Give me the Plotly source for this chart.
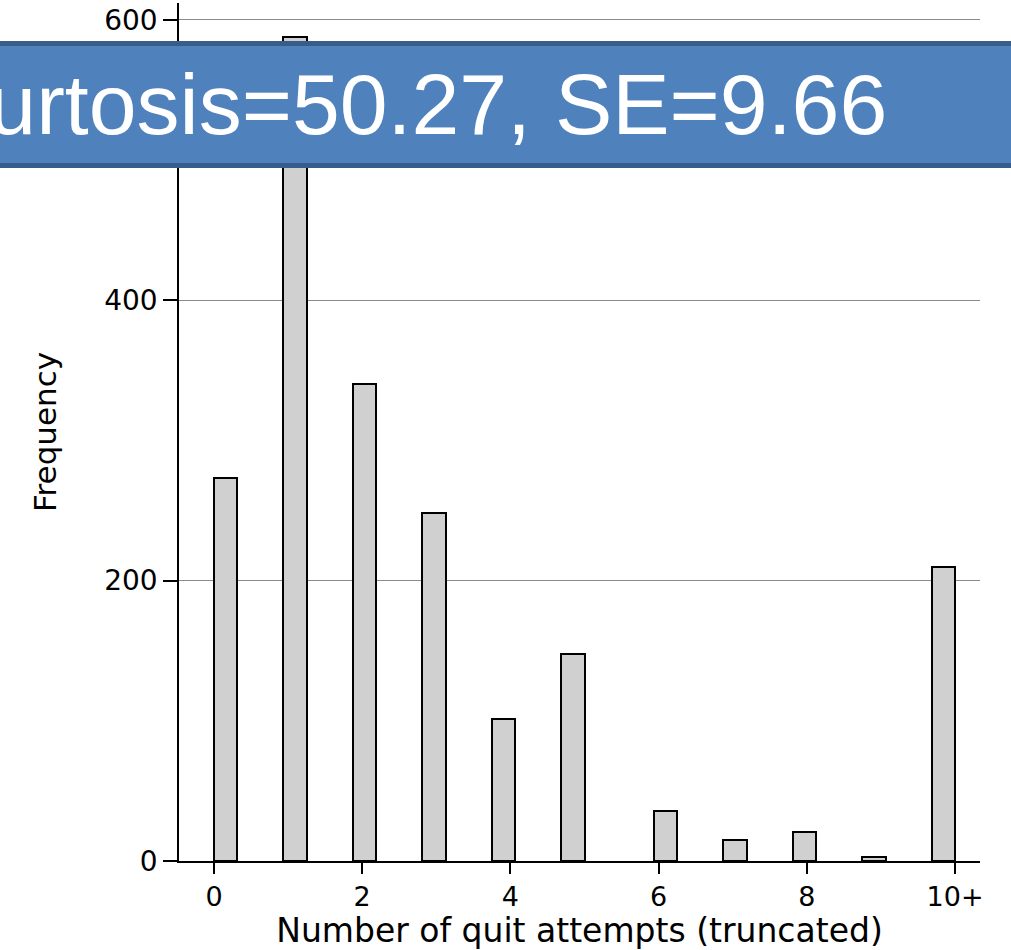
import plotly.graph_objects as go
import math

# Data
attempts = [0, 1, 2, 3, 4, 5, 6, 7, 8, 9, 10]
frequency = [273, 588, 340, 248, 101, 148, 36, 15, 21, 3, 210]
x_tick_vals = [0, 2, 4, 6, 8, 10]
x_tick_text = ["0", "2", "4", "6", "8", "10+"]
y_tick_vals = [0, 200, 400, 600]
banner_text = "Kurtosis=50.27, SE=9.66"

# Stata-style histogram bins: 32 bins over [0, 10], right-inclusive
n_bins = 32
bin_w = 10 / n_bins
centers = []
for v in attempts:
    idx = 0 if v == 0 else math.ceil(v / bin_w) - 1
    centers.append(idx * bin_w + bin_w / 2)

W, H = 1011, 950
ml, mr, mt, mb = 179, 31, 3, 89

fig = go.Figure()
fig.add_trace(go.Bar(
    x=centers, y=frequency, width=bin_w,
    marker=dict(color="#D0D0D0", line=dict(color="#000000", width=2)),
    hoverinfo="skip", showlegend=False,
))

fig.update_layout(
    width=W, height=H,
    margin=dict(l=ml, r=mr, t=mt, b=mb, pad=0),
    paper_bgcolor="white", plot_bgcolor="white",
    font=dict(family="DejaVu Sans, Arial, sans-serif", color="black"),
    xaxis=dict(
        range=[-0.4723, 10.337],
        tickmode="array", tickvals=x_tick_vals, ticktext=x_tick_text,
        ticks="outside", ticklen=11, tickwidth=1.5, tickcolor="black",
        tickfont=dict(size=27, family="DejaVu Sans, Arial, sans-serif"),
        showgrid=False, zeroline=False,
        showline=True, linecolor="black", linewidth=1.5,
        title=dict(text="Number of quit attempts (truncated)",
                   font=dict(size=33, family="DejaVu Sans, Arial, sans-serif"),
                   standoff=6),
    ),
    yaxis=dict(
        range=[0, 612.1],
        tickmode="array", tickvals=y_tick_vals,
        ticks="outside", ticklen=14, tickwidth=1.5, tickcolor="black",
        tickfont=dict(size=28, family="DejaVu Sans, Arial, sans-serif"),
        showgrid=True, gridcolor="#8a8a8a", gridwidth=1,
        zeroline=False,
        showline=True, linecolor="black", linewidth=1.5,
        title=dict(text="Frequency",
                   font=dict(size=31, family="DejaVu Sans, Arial, sans-serif"),
                   standoff=38),
    ),
    bargap=0,
)

# Banner overlay (paper coordinates computed from pixel layout)
pw = W - ml - mr
ph = H - mt - mb
def px_x(p):
    return (p - ml) / pw
def px_y(p):
    return (H - mb - p) / ph

fig.add_shape(type="rect", xref="paper", yref="paper",
              x0=px_x(-20), x1=px_x(W + 20), y0=px_y(165.5), y1=px_y(43.5),
              fillcolor="#4F81BD", line=dict(color="#385D8A", width=5), layer="above")
fig.add_annotation(text=banner_text, xref="paper", yref="paper",
                   x=px_x(889), y=px_y(104), xanchor="right", yanchor="middle",
                   showarrow=False,
                   font=dict(size=86, color="white", family="Liberation Sans, Arial, sans-serif"))

fig.write_html("out.html")
